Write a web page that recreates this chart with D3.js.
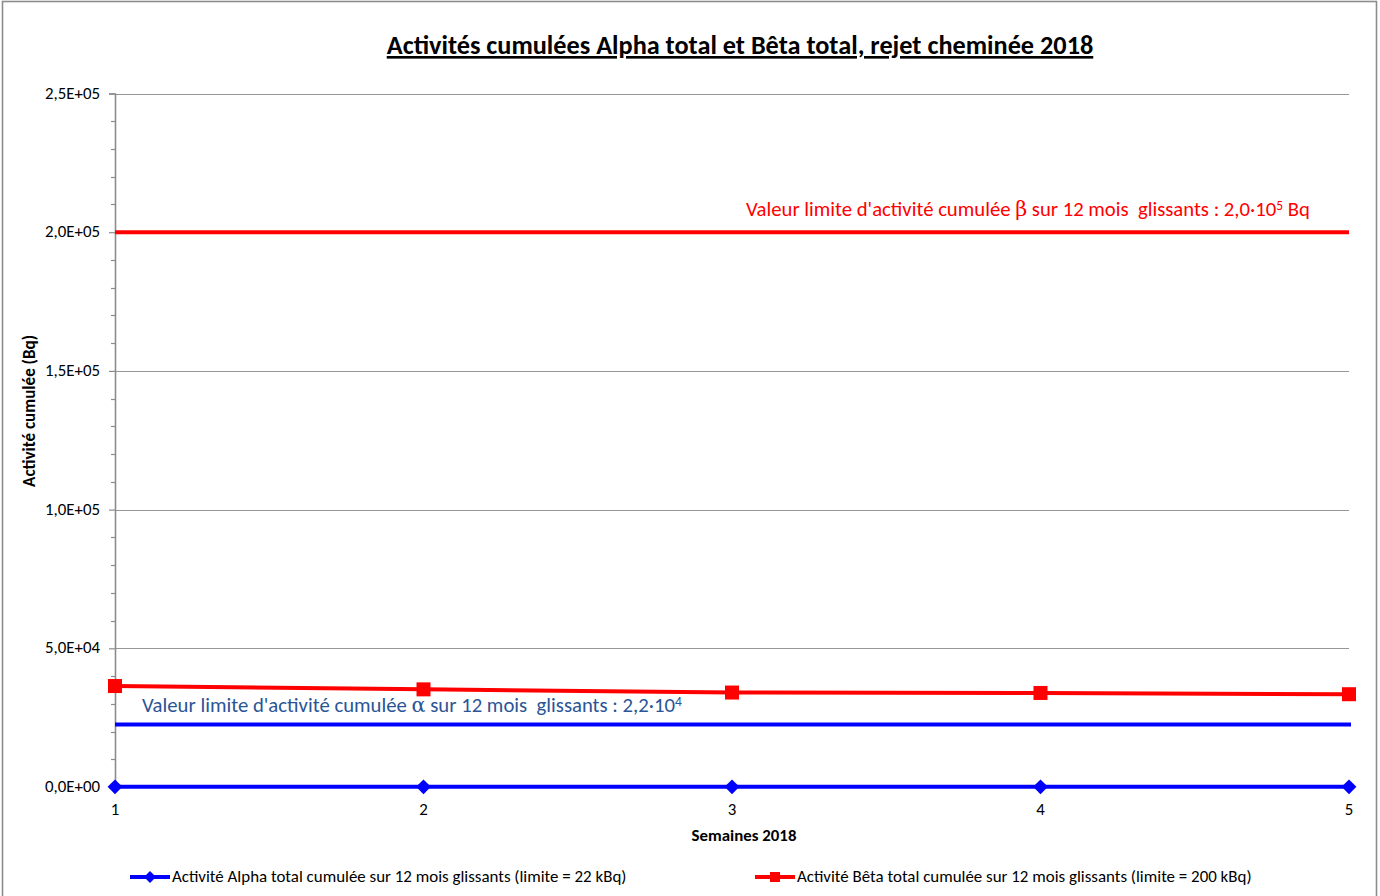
<!DOCTYPE html>
<html><head><meta charset="utf-8">
<script src="https://cdn.jsdelivr.net/npm/d3@7"></script>
<style>
body{margin:0;background:#fff;}
svg{display:block;font-family:Carlito,Calibri,"Liberation Sans",Arial,sans-serif;}
</style></head>
<body><svg id="c" width="1380" height="896"></svg>
<script>
const weeks = [1, 2, 3, 4, 5];
const alphaValues = [60, 60, 60, 60, 60];
const betaValues = [36400, 35200, 34050, 33900, 33450];
const alphaLimit = 22500;
const betaLimit = 200000;
const yTicks = [0, 50000, 100000, 150000, 200000, 250000];
const yTickLabels = ["0,0E+00", "5,0E+04", "1,0E+05", "1,5E+05", "2,0E+05", "2,5E+05"];
const yMinorTicks = d3.range(0, 250001, 10000);
const titleText = "Activités cumulées Alpha total et Bêta total, rejet cheminée 2018";
const yTitle = "Activité cumulée (Bq)";
const xTitle = "Semaines 2018";
const alphaLegend = "Activité Alpha total cumulée sur 12 mois glissants (limite = 22 kBq)";
const betaLegend = "Activité Bêta total cumulée sur 12 mois glissants (limite = 200 kBq)";

const svg = d3.select("#c");
const m = {left: 115, right: 1349, top: 93.5, bottom: 787};

const x = d3.scaleLinear().domain([1, 5]).range([m.left, m.right]);
const y = d3.scaleLinear().domain([0, 250000]).range([m.bottom, m.top]);

function fit(sel, target, base) {
  sel.style("font-size", base + "px");
  const w = sel.node().getComputedTextLength();
  sel.style("font-size", (base * target / w) + "px");
  return sel;
}

// frame
svg.append("rect").attr("x", 2.5).attr("y", 1.5).attr("width", 1374).attr("height", 910)
  .attr("fill", "none").attr("stroke", "#8c8c8c").attr("stroke-width", 1.6);

// gridlines
svg.append("g").selectAll("line").data(yTicks.filter(d => d > 0)).join("line")
  .attr("x1", m.left).attr("x2", m.right)
  .attr("y1", d => Math.round(y(d)) + 0.5).attr("y2", d => Math.round(y(d)) + 0.5)
  .attr("stroke", "#969696").attr("stroke-width", 1.2);

// y axis (line + ticks through d3 axis, labels as own text for sizing)
const yAxis = d3.axisLeft(y).tickValues(yTicks).tickFormat("").tickSize(6);
const gy = svg.append("g").attr("transform", `translate(${m.left},0)`).call(yAxis);
gy.select(".domain").attr("stroke", "#8c8c8c").attr("stroke-width", 1.6);
gy.selectAll(".tick line").attr("stroke", "#8c8c8c").attr("stroke-width", 1.2);
svg.append("g").selectAll("line").data(yMinorTicks.filter(d => d % 50000 !== 0)).join("line")
  .attr("x1", m.left - 4).attr("x2", m.left)
  .attr("y1", d => Math.round(y(d)) + 0.5).attr("y2", d => Math.round(y(d)) + 0.5)
  .attr("stroke", "#8c8c8c").attr("stroke-width", 1.2);
const ylab = svg.append("g").selectAll("text").data(yTicks).join("text")
  .attr("x", 100).attr("y", d => y(d) + 5).attr("text-anchor", "end").attr("fill", "#000")
  .text((d, i) => yTickLabels[i]);
const probe = d3.select(ylab.nodes()[5]);
fit(probe, 55, 14);
const yFs = probe.style("font-size");
ylab.style("font-size", yFs);

// x axis
const xAxis = d3.axisBottom(x).tickValues(weeks).tickFormat("").tickSize(0);
const gx = svg.append("g").attr("transform", `translate(0,${m.bottom})`).call(xAxis);
gx.select(".domain").attr("stroke", "#8c8c8c").attr("stroke-width", 1.2);
svg.append("g").selectAll("text").data(weeks).join("text")
  .attr("x", d => x(d)).attr("y", 815).attr("text-anchor", "middle").attr("fill", "#000")
  .style("font-size", yFs).text(d => d);

// limit lines
svg.append("line").attr("x1", m.left).attr("x2", m.right)
  .attr("y1", y(betaLimit)).attr("y2", y(betaLimit))
  .attr("stroke", "#ff0000").attr("stroke-width", 4);
svg.append("line").attr("x1", m.left).attr("x2", m.right + 2)
  .attr("y1", y(alphaLimit)).attr("y2", y(alphaLimit))
  .attr("stroke", "#0000ff").attr("stroke-width", 4);

// series
const line = d3.line().x((d, i) => x(weeks[i])).y(d => y(d));
svg.append("path").datum(betaValues).attr("d", line).attr("fill", "none")
  .attr("stroke", "#ff0000").attr("stroke-width", 4);
svg.append("g").selectAll("rect").data(betaValues).join("rect")
  .attr("x", (d, i) => x(weeks[i]) - 7).attr("y", d => y(d) - 7)
  .attr("width", 14).attr("height", 14).attr("fill", "#ff0000");
svg.append("path").datum(alphaValues).attr("d", line).attr("fill", "none")
  .attr("stroke", "#0000ff").attr("stroke-width", 4);
const diamond = d3.symbol().type(d3.symbolDiamond2).size(140);
svg.append("g").selectAll("path").data(alphaValues).join("path")
  .attr("transform", (d, i) => `translate(${x(weeks[i])},${y(d)})`)
  .attr("d", diamond).attr("fill", "#0000ff");

// annotations
const tb = svg.append("text").attr("x", 746).attr("y", 216).attr("fill", "#ff0000").style("white-space", "pre");
tb.append("tspan").text("Valeur limite d'activité cumulée ");
tb.append("tspan").style("font-family", "'DejaVu Serif',serif").text("β");
tb.append("tspan").text(" sur 12 mois  glissants : 2,0·10");
tb.append("tspan").attr("dy", -6).attr("font-size", "0.65em").text("5");
tb.append("tspan").attr("dy", 6).text(" Bq");
fit(tb, 564, 17);

const ta = svg.append("text").attr("x", 142).attr("y", 712).attr("fill", "#2a5596").style("white-space", "pre");
ta.append("tspan").text("Valeur limite d'activité cumulée ");
ta.append("tspan").style("font-family", "'DejaVu Serif',serif").text("α");
ta.append("tspan").text(" sur 12 mois  glissants : 2,2·10");
ta.append("tspan").attr("dy", -6).attr("font-size", "0.65em").text("4");
fit(ta, 540, 17);

// title
const tt = svg.append("text").attr("x", 740).attr("y", 54).attr("text-anchor", "middle")
  .attr("font-weight", "bold").attr("text-decoration", "underline").text(titleText);
fit(tt, 707, 22);

// axis titles
const yt = svg.append("text").attr("transform", "translate(35,411) rotate(-90)")
  .attr("text-anchor", "middle").attr("font-weight", "bold").text(yTitle);
fit(yt, 152, 13);
const xt = svg.append("text").attr("x", 744).attr("y", 841).attr("text-anchor", "middle")
  .attr("font-weight", "bold").text(xTitle);
fit(xt, 105, 13);

// legend
const lg = svg.append("g");
lg.append("line").attr("x1", 130).attr("x2", 170).attr("y1", 877).attr("y2", 877)
  .attr("stroke", "#0000ff").attr("stroke-width", 4);
lg.append("path").attr("transform", "translate(150,877)").attr("d", d3.symbol().type(d3.symbolDiamond2).size(90)).attr("fill", "#0000ff");
const la = lg.append("text").attr("x", 172).attr("y", 882).text(alphaLegend);
fit(la, 455, 14);
lg.append("line").attr("x1", 755).attr("x2", 795).attr("y1", 877).attr("y2", 877)
  .attr("stroke", "#ff0000").attr("stroke-width", 4);
lg.append("rect").attr("x", 770).attr("y", 872).attr("width", 10).attr("height", 10).attr("fill", "#ff0000");
const lb = lg.append("text").attr("x", 797).attr("y", 882).text(betaLegend);
fit(lb, 455, 14);
</script></body></html>
